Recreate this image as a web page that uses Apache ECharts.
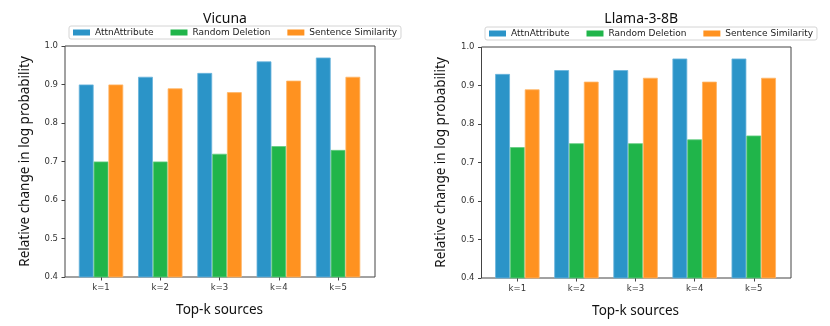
<!doctype html>
<html>
<head>
<meta charset="utf-8"/>
<title>Top-k sources</title>
<script src="https://cdn.jsdelivr.net/npm/echarts@6/dist/echarts.min.js"></script>
<style>
body { margin: 0; background: #fff; }
#chart { width: 830px; height: 326px; }
</style>
</head>
<body>
<div id="chart"></div>
<script>
// data
const categories = ['k=1', 'k=2', 'k=3', 'k=4', 'k=5'];
const seriesNames = ['AttnAttribute', 'Random Deletion', 'Sentence Similarity'];
const vicunaAttn = [0.90, 0.92, 0.93, 0.96, 0.97];
const vicunaRandom = [0.70, 0.70, 0.72, 0.74, 0.73];
const vicunaSentence = [0.90, 0.89, 0.88, 0.91, 0.92];
const llamaAttn = [0.93, 0.94, 0.94, 0.97, 0.97];
const llamaRandom = [0.74, 0.75, 0.75, 0.76, 0.77];
const llamaSentence = [0.89, 0.91, 0.92, 0.91, 0.92];

const colors = ['#2b94c8', '#20b54a', '#ff9220'];
const edges = ['#6ab4dc', '#62cc80', '#ffb566'];
const tickFont = 'DejaVu Sans';
const nameFont = 'Noto Sans';

// two panels: frame grid (spines + y labels) and an inner grid for the bars
const panels = [
    {title: 'Vicuna', frame: {left: 65, top: 46, width: 310, height: 231},
     data: {left: 71.4, width: 296.3}, legend: {left: 69, top: 26},
     values: [vicunaAttn, vicunaRandom, vicunaSentence]},
    {title: 'Llama-3-8B', frame: {left: 481.5, top: 47, width: 309.5, height: 231},
     data: {left: 487.8, width: 295.5}, legend: {left: 485, top: 27},
     values: [llamaAttn, llamaRandom, llamaSentence]}
];

const grid = [], xAxis = [], yAxis = [], series = [], title = [], legend = [];

panels.forEach((p, i) => {
    const fi = i * 2, di = i * 2 + 1;
    grid.push({left: p.frame.left, top: p.frame.top, width: p.frame.width, height: p.frame.height,
        show: true, borderColor: '#444', borderWidth: 1, backgroundColor: 'transparent'});
    grid.push({left: p.data.left, top: p.frame.top, width: p.data.width, height: p.frame.height});

    title.push({text: p.title, left: p.frame.left + p.frame.width / 2, textAlign: 'center', top: 7,
        textStyle: {fontFamily: nameFont, fontSize: 14, fontWeight: 'normal', color: '#111'}});

    legend.push({left: p.legend.left, top: p.legend.top, data: seriesNames.map(n => n + ' ' + i),
        formatter: n => n.slice(0, -2),
        itemWidth: 17, itemHeight: 6, itemGap: 17, padding: [2, 4, 2, 4],
        borderColor: '#d4d4d4', borderWidth: 1, borderRadius: 2,
        icon: 'rect', itemStyle: {borderWidth: 0},
        textStyle: {fontFamily: tickFont, fontSize: 9, color: '#222'}});

    // frame axes
    xAxis.push({gridIndex: fi, type: 'value', min: 0, max: 1, show: false});
    yAxis.push({gridIndex: fi, type: 'value', min: 0.4, max: 1.0, interval: 0.1,
        axisLine: {show: false}, splitLine: {show: false},
        axisTick: {show: true, length: 3.5, lineStyle: {color: '#444'}},
        axisLabel: {margin: 7, fontFamily: tickFont, fontSize: 8.5, color: '#333',
            formatter: v => v.toFixed(1)},
        name: 'Relative change in log probability', nameLocation: 'middle', nameGap: 33,
        nameTextStyle: {fontFamily: nameFont, fontSize: 13.5, color: '#111'}});

    // bar axes
    xAxis.push({gridIndex: di, type: 'category', data: categories,
        axisLine: {show: false},
        axisTick: {show: true, alignWithLabel: true, length: 3.5, lineStyle: {color: '#444'}},
        axisLabel: {margin: 6, fontFamily: tickFont, fontSize: 8.5, color: '#333'},
        name: 'Top-k sources', nameLocation: 'middle', nameGap: 26,
        nameTextStyle: {fontFamily: nameFont, fontSize: 13.5, color: '#111'}});
    yAxis.push({gridIndex: di, type: 'value', min: 0.4, max: 1.0, show: false});

    p.values.forEach((vals, s) => {
        series.push({name: seriesNames[s] + ' ' + i, type: 'bar', xAxisIndex: di, yAxisIndex: di,
            data: vals, barWidth: 14.8, barGap: '0%',
            itemStyle: {color: colors[s], borderColor: edges[s], borderWidth: 0.8}});
    });
});

const chart = echarts.init(document.getElementById('chart'));
chart.setOption({animation: false, color: colors, title, legend, grid, xAxis, yAxis, series});
</script>
</body>
</html>
